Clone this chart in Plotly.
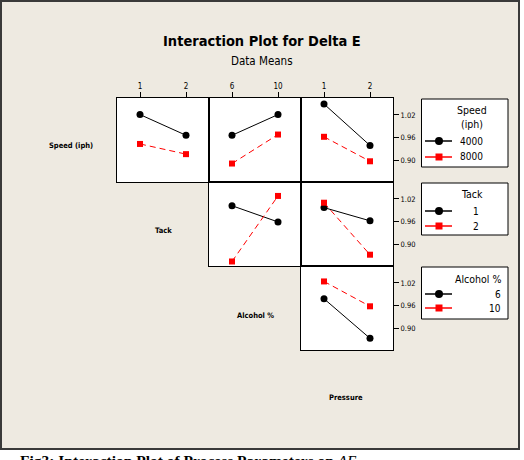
import plotly.graph_objects as go

# ---------------- data (means of Delta E) ----------------
speed_levels = ["4000", "8000"]
tack_levels = [1, 2]
alcohol_levels = [6, 10]
pressure_levels = [1, 2]

# Speed traces
speed4000_vs_tack = [1.021, 0.966]
speed8000_vs_tack = [0.943, 0.916]
speed4000_vs_alcohol = [0.966, 1.021]
speed8000_vs_alcohol = [0.891, 0.968]
speed4000_vs_pressure = [1.049, 0.939]
speed8000_vs_pressure = [0.962, 0.897]
# Tack traces
tack1_vs_alcohol = [1.002, 0.959]
tack2_vs_alcohol = [0.854, 1.028]
tack1_vs_pressure = [0.997, 0.962]
tack2_vs_pressure = [1.010, 0.872]
# Alcohol traces
alcohol6_vs_pressure = [0.978, 0.873]
alcohol10_vs_pressure = [1.024, 0.958]

y_ticks = [0.90, 0.96, 1.02]
y_tick_text = ["0.90", "0.96", "1.02"]

# ---------------- layout helpers ----------------
W, H = 524, 460
FONT = "Liberation Sans Narrow, DejaVu Sans Condensed, Arial Narrow, sans-serif"


def px(x):
    return x / W


def py(y):
    return 1 - y / H


cols = {1: (117, 209), 2: (209, 301), 3: (301, 393)}
rows = {1: (98, 182), 2: (182, 266), 3: (266, 350)}

# panel id -> (row, col, x levels)
panels = {
    1: (1, 1, tack_levels),
    2: (1, 2, alcohol_levels),
    3: (1, 3, pressure_levels),
    4: (2, 2, alcohol_levels),
    5: (2, 3, pressure_levels),
    6: (3, 3, pressure_levels),
}

series = [
    (1, speed4000_vs_tack, speed8000_vs_tack),
    (2, speed4000_vs_alcohol, speed8000_vs_alcohol),
    (3, speed4000_vs_pressure, speed8000_vs_pressure),
    (4, tack1_vs_alcohol, tack2_vs_alcohol),
    (5, tack1_vs_pressure, tack2_vs_pressure),
    (6, alcohol6_vs_pressure, alcohol10_vs_pressure),
]

fig = go.Figure()

for pid, first, second in series:
    xs = panels[pid][2]
    sfx = "" if pid == 1 else str(pid)
    fig.add_trace(go.Scatter(
        x=xs, y=first, mode="lines+markers",
        line=dict(color="black", width=1),
        marker=dict(symbol="circle", size=7, color="black"),
        xaxis="x" + sfx, yaxis="y" + sfx, showlegend=False, hoverinfo="skip"))
    fig.add_trace(go.Scatter(
        x=xs, y=second, mode="lines+markers",
        line=dict(color="#FF0000", width=1, dash="6px,4px"),
        marker=dict(symbol="square", size=6, color="#FF0000"),
        xaxis="x" + sfx, yaxis="y" + sfx, showlegend=False, hoverinfo="skip"))

layout = dict(
    width=W, height=H,
    margin=dict(l=0, r=0, t=0, b=0),
    paper_bgcolor="white",
    plot_bgcolor="rgba(0,0,0,0)",
    showlegend=False,
    font=dict(family=FONT, color="black"),
)

shapes = [
    dict(type="rect", xref="paper", yref="paper",
         x0=px(1), x1=px(519), y0=py(1), y1=py(449),
         line=dict(color="#3a3a3a", width=2), fillcolor="#EEEAE1", layer="below"),
]

for pid, (r, c, lv) in panels.items():
    sfx = "" if pid == 1 else str(pid)
    x0, x1 = cols[c]
    y0, y1 = rows[r]
    span = lv[1] - lv[0]
    xa = dict(domain=[px(x0), px(x1)], range=[lv[0] - span / 2, lv[1] + span / 2],
              anchor="y" + sfx, showgrid=False, zeroline=False,
              showline=True, mirror=True, linecolor="black", linewidth=1,
              fixedrange=True)
    if r == 1:
        xa.update(side="top", ticks="outside", ticklen=5, tickwidth=1, tickcolor="black",
                  tickvals=lv, ticktext=[str(v) for v in lv],
                  tickfont=dict(size=8, family=FONT, color="black"), showticklabels=True)
    else:
        xa.update(showticklabels=False, ticks="")
    ya = dict(domain=[py(y1), py(y0)], range=[0.842, 1.065],
              anchor="x" + sfx, showgrid=False, zeroline=False,
              showline=True, mirror=True, linecolor="black", linewidth=1,
              fixedrange=True)
    if c == 3:
        ya.update(side="right", ticks="outside", ticklen=5, tickwidth=1, tickcolor="black",
                  tickvals=y_ticks, ticktext=y_tick_text,
                  tickfont=dict(size=7.5, family=FONT, color="black"), showticklabels=True)
    else:
        ya.update(showticklabels=False, ticks="")
    layout["xaxis" + sfx] = xa
    layout["yaxis" + sfx] = ya
    shapes.append(dict(type="rect", xref="x" + sfx + " domain", yref="y" + sfx + " domain",
                       x0=0, x1=1, y0=0, y1=1, fillcolor="white",
                       line=dict(width=0), layer="below"))

annotations = []


def text(x, y, s, size, xanchor="center", bold=False, family=FONT):
    annotations.append(dict(
        xref="paper", yref="paper", x=px(x), y=py(y), text=("<b>%s</b>" % s) if bold else s,
        showarrow=False, xanchor=xanchor, yanchor="middle",
        font=dict(size=size, family=family, color="black")))


# titles
text(262, 41, "Interaction Plot for Delta E", 14.5, bold=True)
text(262, 61, "Data Means", 11.5)

# diagonal factor labels
text(71, 146, "Speed (iph)", 7.5, bold=True)
text(163, 230, "Tack", 7.5, bold=True)
text(255, 315, "Alcohol %", 7.5, bold=True)
text(346, 397, "Pressure", 7.5, bold=True)

# legends
legends = [
    dict(box=(99, 167), title=[("Speed", 110, 472, "center"), ("(iph)", 124, 472, "center")],
         entries=[(speed_levels[0], 141), (speed_levels[1], 157)], lab_x=485, lab_anchor="right"),
    dict(box=(183, 235), title=[("Tack", 194, 472, "center")],
         entries=[(str(tack_levels[0]), 211), (str(tack_levels[1]), 226)], lab_x=476, lab_anchor="center"),
    dict(box=(267, 319), title=[("Alcohol %", 279, 503, "right")],
         entries=[(str(alcohol_levels[0]), 294), (str(alcohol_levels[1]), 308)], lab_x=503, lab_anchor="right"),
]

for lg in legends:
    b0, b1 = lg["box"]
    shapes.append(dict(type="rect", xref="paper", yref="paper",
                       x0=px(421.5), x1=px(508), y0=py(b1), y1=py(b0),
                       line=dict(color="black", width=1), fillcolor="white"))
    for t, yy, xx, anc in lg["title"]:
        text(xx, yy, t, 10.5, xanchor=anc)
    for i, (lab, yy) in enumerate(lg["entries"]):
        col = "black" if i == 0 else "#FF0000"
        shapes.append(dict(type="line", xref="paper", yref="paper",
                           x0=px(425), x1=px(452), y0=py(yy), y1=py(yy),
                           line=dict(color=col, width=1.5)))
        if i == 0:
            shapes.append(dict(type="circle", xref="paper", yref="paper",
                               x0=px(435), x1=px(443), y0=py(yy + 4), y1=py(yy - 4),
                               line=dict(color=col, width=0), fillcolor=col))
        else:
            shapes.append(dict(type="rect", xref="paper", yref="paper",
                               x0=px(435.5), x1=px(442.5), y0=py(yy + 3.5), y1=py(yy - 3.5),
                               line=dict(color=col, width=0), fillcolor=col))
        text(lg["lab_x"], yy, lab, 10, xanchor=lg["lab_anchor"])

# caption (partly cut off at the bottom, as in the reference)
annotations.append(dict(
    xref="paper", yref="paper", x=px(18), y=py(460), xanchor="left", yanchor="middle",
    text="<b>Fig3: Interaction Plot of Process Parameters on</b> <i>ΔE</i>", showarrow=False,
    font=dict(size=15.5, family="Liberation Serif, DejaVu Serif, serif", color="black")))

layout["shapes"] = shapes
layout["annotations"] = annotations
fig.update_layout(**layout)

fig.write_html("out.html")
